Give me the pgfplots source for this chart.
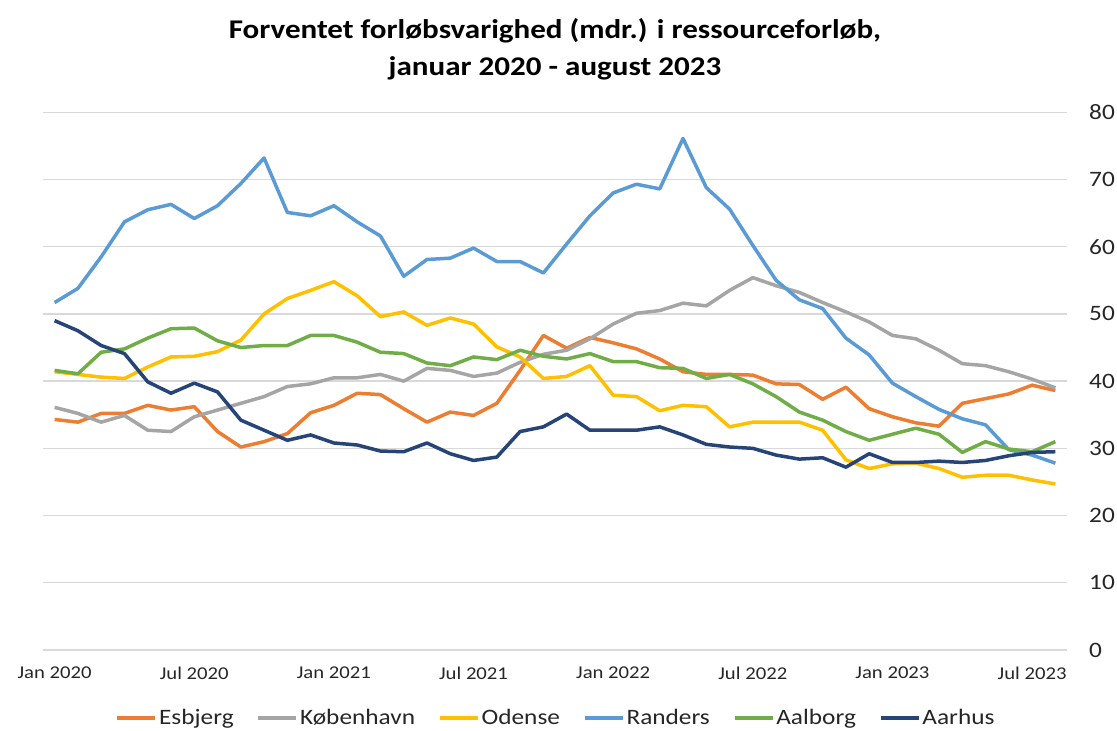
\documentclass[border=0pt]{standalone}
\usepackage{fontspec}
\setmainfont{Carlito}[FakeStretch=1.15]
\usepackage{pgfplots}
\usepackage{pgfplotstable}
\pgfplotsset{compat=1.18}
\definecolor{cEsb}{HTML}{ED7D31}
\definecolor{cKbh}{HTML}{A5A5A5}
\definecolor{cOde}{HTML}{FFC000}
\definecolor{cRan}{HTML}{5B9BD5}
\definecolor{cAal}{HTML}{70AD47}
\definecolor{cAar}{HTML}{264478}
\definecolor{gridc}{HTML}{D9D9D9}
\definecolor{txt}{HTML}{262626}

\pgfplotstableread{
i  esb  kbh  ode  ran  aal  aar
0  34.3 36.1 41.4 51.7 41.6 49.0
1  33.9 35.2 41.0 53.8 41.1 47.5
2  35.2 33.9 40.6 58.5 44.3 45.3
3  35.2 34.9 40.4 63.7 44.8 44.1
4  36.4 32.7 42.1 65.5 46.4 39.9
5  35.7 32.5 43.6 66.3 47.8 38.2
6  36.2 34.7 43.7 64.2 47.9 39.7
7  32.5 35.7 44.4 66.1 46.0 38.4
8  30.2 36.7 46.1 69.4 45.0 34.2
9  31.0 37.7 50.0 73.2 45.3 32.7
10 32.2 39.2 52.3 65.1 45.3 31.2
11 35.3 39.6 53.5 64.6 46.8 32.0
12 36.4 40.5 54.8 66.1 46.8 30.8
13 38.2 40.5 52.7 63.7 45.8 30.5
14 38.0 41.0 49.6 61.6 44.3 29.6
15 35.9 40.0 50.3 55.6 44.1 29.5
16 33.9 41.9 48.3 58.1 42.7 30.8
17 35.4 41.6 49.4 58.3 42.3 29.2
18 34.9 40.7 48.5 59.8 43.6 28.2
19 36.7 41.2 45.1 57.8 43.2 28.7
20 41.6 42.8 43.6 57.8 44.6 32.5
21 46.8 44.0 40.4 56.1 43.7 33.2
22 44.9 44.6 40.7 60.4 43.3 35.1
23 46.5 46.3 42.3 64.6 44.1 32.7
24 45.7 48.5 37.9 68.0 42.9 32.7
25 44.8 50.1 37.7 69.3 42.9 32.7
26 43.3 50.5 35.6 68.6 42.0 33.2
27 41.4 51.6 36.4 76.1 41.9 32.0
28 41.0 51.2 36.2 68.8 40.4 30.6
29 41.0 53.5 33.2 65.6 41.0 30.2
30 40.9 55.4 33.9 60.2 39.6 30.0
31 39.6 54.2 33.9 55.0 37.7 29.0
32 39.5 53.2 33.9 52.1 35.4 28.4
33 37.3 51.7 32.7 50.8 34.2 28.6
34 39.1 50.3 28.3 46.4 32.5 27.2
35 35.9 48.8 27.0 43.9 31.2 29.2
36 34.7 46.8 27.7 39.7 32.1 27.9
37 33.8 46.3 27.8 37.7 33.0 27.9
38 33.3 44.6 27.0 35.8 32.1 28.1
39 36.7 42.6 25.7 34.4 29.4 27.9
40 37.4 42.3 26.0 33.5 31.0 28.2
41 38.1 41.4 26.0 29.8 29.9 28.9
42 39.4 40.3 25.3 29.0 29.5 29.4
43 38.6 39.0 24.7 27.8 31.0 29.5
}\datatable

\begin{document}
\begin{tikzpicture}[x=1pt,y=1pt]
\useasboundingbox (-43,-81) rectangle (1074,650);
\begin{axis}[
  at={(0,0)}, anchor=south west,
  scale only axis, width=1024pt, height=537.7pt,
  xmin=-0.5, xmax=43.5, ymin=0, ymax=80,
  axis line style={draw=none},
  major tick length=0pt,
  ymajorgrids, grid style={draw=gridc, line width=1.3pt},
  xtick={0,6,12,18,24,30,36,42},
  xticklabels={Jan 2020, Jul 2020, Jan 2021, Jul 2021, Jan 2022, Jul 2022, Jan 2023, Jul 2023},
  xticklabel style={font=\fontsize{18}{21}\selectfont, text=txt, anchor=center, yshift=-23pt},
  ytick={0,10,...,80},
  yticklabel pos=right,
  yticklabel style={font=\fontsize{22}{26}\selectfont, text=txt, anchor=west, inner sep=0pt, xshift=22pt},
  /pgf/number format/assume math mode=true,
  title={Forventet forløbsvarighed (mdr.) i ressourceforløb,\\januar 2020 - august 2023},
  title style={font=\bfseries\fontsize{27}{37}\selectfont, align=center, at={(0.5,1)}, anchor=center, yshift=57pt},
  legend columns=6,
  legend style={draw=none, fill=none, at={(0.501,-0.1265)}, anchor=center,
    font=\fontsize{22}{26}\selectfont, text=txt,
    /tikz/every even column/.append style={column sep=21pt},
    /tikz/every odd column/.append style={column sep=0pt}},
  legend image code/.code={\draw[#1, line cap=butt] (0pt,0pt) -- (38pt,0pt);},
  every axis plot/.append style={line width=3.5pt, line join=round, mark=none},
]
\addplot[cEsb] table[x=i,y=esb]{\datatable}; \addlegendentry{Esbjerg}
\addplot[cKbh] table[x=i,y=kbh]{\datatable}; \addlegendentry{København}
\addplot[cOde] table[x=i,y=ode]{\datatable}; \addlegendentry{Odense}
\addplot[cRan] table[x=i,y=ran]{\datatable}; \addlegendentry{Randers}
\addplot[cAal] table[x=i,y=aal]{\datatable}; \addlegendentry{Aalborg}
\addplot[cAar] table[x=i,y=aar]{\datatable}; \addlegendentry{Aarhus}
\end{axis}
\end{tikzpicture}
\end{document}
